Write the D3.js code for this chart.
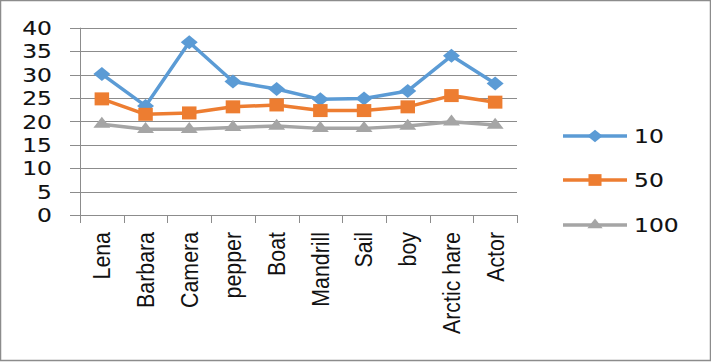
<!DOCTYPE html>
<html lang="en">
<head>
<meta charset="UTF-8">
<title>Line chart</title>
<script src="https://cdnjs.cloudflare.com/ajax/libs/d3/7.8.5/d3.min.js"></script>
<style>
  html, body { margin: 0; padding: 0; background: #fff; }
  svg { display: block; }
</style>
</head>
<body>
<svg id="chart" width="711" height="362"></svg>
<script>
const categories = ["Lena", "Barbara", "Camera", "pepper", "Boat", "Mandrill", "Sail", "boy", "Arctic hare", "Actor"];
const s10  = [30.1, 23.3, 36.9, 28.5, 26.9, 24.7, 24.9, 26.5, 34.0, 28.1];
const s50  = [24.8, 21.5, 21.8, 23.1, 23.5, 22.3, 22.3, 23.1, 25.5, 24.1];
const s100 = [19.4, 18.3, 18.3, 18.7, 19.0, 18.5, 18.5, 19.0, 19.9, 19.2];
const seriesNames = ["10", "50", "100"];
const yTicks = [0, 5, 10, 15, 20, 25, 30, 35, 40];

const series = [
  { name: seriesNames[0], values: s10,  color: "#5B9BD5", marker: "diamond" },
  { name: seriesNames[1], values: s50,  color: "#ED7D31", marker: "square" },
  { name: seriesNames[2], values: s100, color: "#A5A5A5", marker: "triangle" }
];

const svg = d3.select("#chart");
const plotLeft = 80, plotRight = 517, plotTop = 27.7, plotBottom = 215;

// outer border
svg.append("rect")
  .attr("x", 0.5).attr("y", 0.5).attr("width", 710).attr("height", 360)
  .attr("fill", "#fff").attr("stroke", "#8c8c8c").attr("stroke-width", 1.5);

const x = d3.scaleBand().domain(categories).range([plotLeft, plotRight]).padding(0);
const y = d3.scaleLinear().domain([0, 40]).range([plotBottom, plotTop]);
const cx = c => x(c) + x.bandwidth() / 2;

// gridlines + y labels
const grid = svg.append("g");
grid.selectAll("line").data(yTicks).join("line")
  .attr("x1", plotLeft - 10).attr("x2", plotRight)
  .attr("y1", d => Math.round(y(d)) + 0.5).attr("y2", d => Math.round(y(d)) + 0.5)
  .attr("stroke", "#8c8c8c").attr("stroke-width", 1);

grid.selectAll("text").data(yTicks).join("text")
  .attr("transform", d => `translate(52,${y(d)}) scale(1.17,1)`)
  .attr("text-anchor", "end")
  .attr("dy", "0.36em")
  .attr("font-family", "DejaVu Sans")
  .attr("font-size", 20)
  .attr("fill", "#111").attr("stroke", "#111").attr("stroke-width", 0.12)
  .text(d => d);

// y axis line
svg.append("line")
  .attr("x1", plotLeft + 0.5).attr("x2", plotLeft + 0.5)
  .attr("y1", y(40)).attr("y2", plotBottom)
  .attr("stroke", "#8c8c8c");

// x axis: category boundary ticks
const bounds = categories.map(c => x(c)).concat([x.range()[1]]);
svg.append("g").selectAll("line").data(bounds).join("line")
  .attr("x1", d => Math.round(d) + 0.5).attr("x2", d => Math.round(d) + 0.5)
  .attr("y1", plotBottom).attr("y2", plotBottom + 8)
  .attr("stroke", "#8c8c8c");

// x labels, rotated
svg.append("g").selectAll("text").data(categories).join("text")
  .attr("transform", d => `translate(${cx(d)},232) rotate(-90) scale(0.89,1)`)
  .attr("text-anchor", "end")
  .attr("dy", "0.35em")
  .attr("font-family", "'Liberation Sans', Arial, sans-serif")
  .attr("font-size", 24)
  .attr("fill", "#111")
  .text(d => d);

// unit-size marker shapes, stretched to Excel-like proportions
const unitDiamond = d3.symbol(d3.symbolDiamond2, 1 / (1.2525 * 1.2525))();
const unitSquare = d3.symbol(d3.symbolSquare, 1)();
const unitTriangle = d3.symbol(d3.symbolTriangle2, 1 / (0.6824 * 0.6824))();
const markerShape = {
  diamond:  { d: unitDiamond,  sx: 17, sy: 14 },
  square:   { d: unitSquare,   sx: 14.5, sy: 13 },
  triangle: { d: unitTriangle, sx: 17 / 1.732, sy: 11 / 1.5 }
};

const line = d3.line().x((d, i) => cx(categories[i])).y(d => y(d));

series.forEach(s => {
  const m = markerShape[s.marker];
  const g = svg.append("g");
  g.append("path")
    .attr("d", line(s.values))
    .attr("fill", "none").attr("stroke", s.color).attr("stroke-width", 3.5)
    .attr("stroke-linejoin", "round");
  g.selectAll("path.m").data(s.values).join("path")
    .attr("class", "m")
    .attr("transform", (d, i) => `translate(${cx(categories[i])},${y(d)}) scale(${m.sx},${m.sy})`)
    .attr("d", m.d)
    .attr("fill", s.color);
});

// legend
const legendY = [136, 180, 225];
const lg = svg.append("g");
series.forEach((s, i) => {
  const m = markerShape[s.marker];
  const g = lg.append("g").attr("transform", `translate(0,${legendY[i]})`);
  g.append("line").attr("x1", 563).attr("x2", 627).attr("y1", 0).attr("y2", 0)
    .attr("stroke", s.color).attr("stroke-width", 3.5);
  g.append("path").attr("transform", `translate(595,0) scale(${m.sx * 0.9},${m.sy * 0.9})`)
    .attr("d", m.d).attr("fill", s.color);
  g.append("text")
    .attr("transform", "translate(634,0) scale(1.17,1)")
    .attr("dy", "0.36em")
    .attr("font-family", "DejaVu Sans")
    .attr("font-size", 20)
    .attr("fill", "#111").attr("stroke", "#111").attr("stroke-width", 0.12)
    .text(s.name);
});
</script>
</body>
</html>
